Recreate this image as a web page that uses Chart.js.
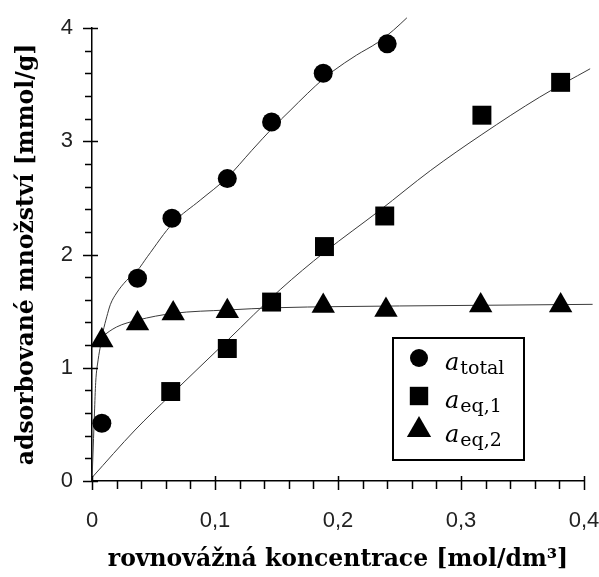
<!DOCTYPE html>
<html>
<head>
<meta charset="utf-8">
<script src="https://cdn.jsdelivr.net/npm/chart.js@4/dist/chart.umd.min.js"></script>
<style>
  html, body { margin: 0; padding: 0; background: #fff; }
  #wrap { width: 599px; height: 577px; }
</style>
</head>
<body>
<div id="wrap"><canvas id="ch-iso" width="599" height="577"></canvas></div>
<script>
// measured points
const totalX = [0.008, 0.037, 0.065, 0.110, 0.146, 0.188, 0.240];
const totalY = [0.51, 1.79, 2.32, 2.67, 3.17, 3.60, 3.86];
const eq1X = [0.064, 0.110, 0.146, 0.189, 0.238, 0.317, 0.381];
const eq1Y = [0.79, 1.17, 1.58, 2.07, 2.34, 3.23, 3.52];
const eq2X = [0.008, 0.037, 0.066, 0.110, 0.188, 0.239, 0.316, 0.381];
const eq2Y = [1.24, 1.39, 1.48, 1.50, 1.545, 1.51, 1.55, 1.55];

// fitted curves
const fitTotalX = [0, 0.001, 0.002, 0.003, 0.005, 0.007, 0.009, 0.012, 0.015, 0.02, 0.028, 0.037, 0.045, 0.066, 0.088, 0.11, 0.13, 0.147, 0.161, 0.175, 0.188, 0.196, 0.215, 0.232, 0.245, 0.256];
const fitTotalY = [0, 0.3, 0.6, 0.87, 1.07, 1.2, 1.32, 1.45, 1.56, 1.66, 1.77, 1.86, 1.98, 2.28, 2.48, 2.68, 2.92, 3.12, 3.27, 3.42, 3.55, 3.62, 3.76, 3.87, 3.98, 4.09];
const fitEq1X = [0, 0.035, 0.064, 0.11, 0.153, 0.189, 0.234, 0.275, 0.317, 0.364, 0.405];
const fitEq1Y = [0.03, 0.45, 0.76, 1.24, 1.69, 2.02, 2.39, 2.74, 3.06, 3.39, 3.64];
const fitEq2X = [0, 0.008, 0.02, 0.037, 0.066, 0.11, 0.15, 0.2, 0.3, 0.407];
const fitEq2Y = [1.18, 1.27, 1.36, 1.42, 1.48, 1.51, 1.53, 1.54, 1.55, 1.56];

const xTicks = ['0', '0,1', '0,2', '0,3', '0,4'];
const yTicks = ['0', '1', '2', '3', '4'];
const legendLabels = [['a', 'total'], ['a', 'eq,1'], ['a', 'eq,2']];

const pts = (xs, ys) => xs.map((x, i) => ({ x, y: ys[i] }));
const tickFont = { family: "'Liberation Sans', Arial, sans-serif", size: 22 };
const titleFont = { family: "'DejaVu Serif', serif", size: 23.5, weight: 'bold' };

// major ticks cross the axis, minor ticks point outward
const tickMarks = {
  id: 'tickMarks',
  afterDraw(chart) {
    const { ctx, chartArea: a, scales: { x, y } } = chart;
    ctx.save();
    ctx.strokeStyle = '#000';
    ctx.lineWidth = 1.5;
    ctx.beginPath();
    for (let i = 0; i <= 20; i++) {
      const px = Math.round(x.getPixelForValue(i * 0.02)) + 0.5;
      const major = i % 5 === 0;
      ctx.moveTo(px, a.bottom - (major ? 5 : 0));
      ctx.lineTo(px, a.bottom + (major ? 9 : 8));
      const py = Math.round(y.getPixelForValue(i * 0.2)) + 0.5;
      ctx.moveTo(a.left + (major ? 6 : 0), py);
      ctx.lineTo(a.left - (major ? 9 : 7), py);
    }
    ctx.stroke();
    ctx.restore();
  }
};

function marker(ctx, style, x, y, r) {
  ctx.beginPath();
  if (style === 'circle') {
    ctx.arc(x, y, r, 0, Math.PI * 2);
  } else if (style === 'rect') {
    const s = r * Math.SQRT1_2;
    ctx.rect(x - s, y - s, 2 * s, 2 * s);
  } else {
    ctx.moveTo(x, y - r);
    ctx.lineTo(x + r * Math.sin(2 * Math.PI / 3), y + r / 2);
    ctx.lineTo(x - r * Math.sin(2 * Math.PI / 3), y + r / 2);
    ctx.closePath();
  }
  ctx.fill();
}

const boxLegend = {
  id: 'boxLegend',
  afterDraw(chart) {
    const { ctx, chartArea: a } = chart;
    const L = a.right - 191, T = a.bottom - 143, W = 131, H = 122;
    ctx.save();
    ctx.strokeStyle = '#000';
    ctx.lineWidth = 2;
    ctx.strokeRect(L, T, W, H);
    ctx.fillStyle = '#000';
    const styles = [['circle', 9], ['rect', 13], ['triangle', 14]];
    const rowY = [20, 58, 92];
    legendLabels.forEach((lab, i) => {
      const cy = T + rowY[i];
      marker(ctx, styles[i][0], L + 26, cy, styles[i][1]);
      ctx.textBaseline = 'alphabetic';
      ctx.font = "italic 24px 'DejaVu Serif', serif";
      ctx.fillText(lab[0], L + 52, cy + 12);
      const w = ctx.measureText(lab[0]).width;
      ctx.font = "19px 'DejaVu Serif', serif";
      ctx.fillText(lab[1], L + 52 + w + 1, cy + 16);
    });
    ctx.restore();
  }
};

const markerDs = (xs, ys, style, r) => ({
  type: 'scatter', data: pts(xs, ys), showLine: false,
  pointStyle: style, pointRadius: r, pointHoverRadius: r,
  backgroundColor: '#000', borderColor: '#000', borderWidth: 0
});
const curveDs = (xs, ys) => ({
  type: 'line', data: pts(xs, ys), showLine: true, pointRadius: 0,
  borderColor: '#3a3a3a', borderWidth: 1, cubicInterpolationMode: 'monotone',
  fill: false, clip: false
});

new Chart(document.getElementById('ch-iso'), {
  type: 'scatter',
  data: {
    datasets: [
      markerDs(totalX, totalY, 'circle', 9.5),
      markerDs(eq1X, eq1Y, 'rect', 13.4),
      markerDs(eq2X, eq2Y, 'triangle', 13.5),
      curveDs(fitTotalX, fitTotalY),
      curveDs(fitEq1X, fitEq1Y),
      curveDs(fitEq2X, fitEq2Y)
    ]
  },
  options: {
    responsive: false,
    animation: false,
    devicePixelRatio: 1,
    layout: { padding: { top: 28, right: 15, left: 0, bottom: 0 } },
    plugins: { legend: { display: false }, tooltip: { enabled: false } },
    scales: {
      x: {
        type: 'linear', min: 0, max: 0.4,
        grid: { display: false, drawTicks: false },
        border: { display: true, color: '#000', width: 1.5 },
        ticks: {
          stepSize: 0.1, padding: 27, color: '#222', font: tickFont, maxRotation: 0,
          callback: v => xTicks[Math.round(v * 10)]
        },
        title: { display: true, text: 'rovnovážná koncentrace [mol/dm³]', color: '#000', font: titleFont, padding: { top: 0, bottom: 3 } },
        afterFit: s => { s.height = 96; s.paddingLeft = 0; s.paddingRight = 0; }
      },
      y: {
        type: 'linear', min: 0, max: 4,
        grid: { display: false, drawTicks: false },
        border: { display: true, color: '#000', width: 1.5 },
        ticks: {
          stepSize: 1, padding: 19, color: '#222', font: tickFont,
          callback: v => yTicks[Math.round(v)]
        },
        title: { display: true, text: 'adsorbované množství [mmol/g]', color: '#000', font: titleFont, padding: { top: 13, bottom: 0 } },
        afterFit: s => { s.width = 92; s.paddingTop = 0; s.paddingBottom = 0; }
      }
    }
  },
  plugins: [tickMarks, boxLegend]
});
</script>
</body>
</html>
